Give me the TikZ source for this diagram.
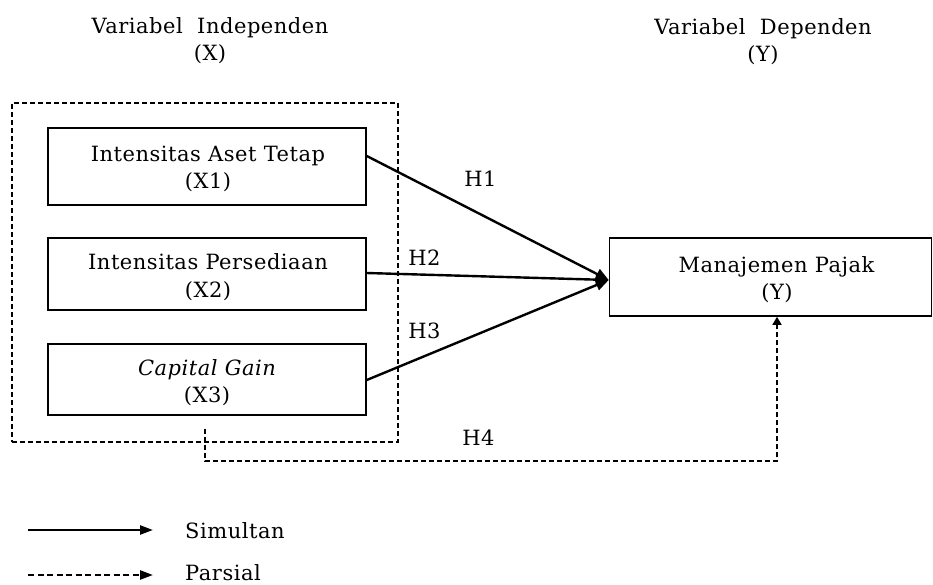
\documentclass[tikz,border=0pt]{standalone}
\usepackage{fontspec}
\setmainfont{DejaVu Serif}[LetterSpace=2.5]
\usetikzlibrary{arrows.meta}
\begin{document}
\begin{tikzpicture}[x=1pt,y=-1pt,
  every node/.style={font=\fontsize{21}{27.5}\selectfont, inner sep=0pt},
  varbox/.style={draw, line width=1.6pt, rectangle},
  grpbox/.style={draw, line width=1.2pt, dash pattern=on 5pt off 3pt, rectangle},
  txt/.style={anchor=base, align=center},
  solidarrow/.style={line width=2.4pt, -{Triangle[length=13pt,width=11pt]}},
  partarrow/.style={line width=1.5pt, dash pattern=on 5pt off 3pt, -{Triangle[length=8pt,width=9pt]}},
  legsolid/.style={line width=2.4pt, -{Triangle[length=13pt,width=9pt]}},
  legdash/.style={line width=2.4pt, dash pattern=on 6pt off 3.5pt, -{Triangle[length=13pt,width=9pt]}}
]
\useasboundingbox (0,0) rectangle (933,585);

% headers
\node[txt] (hx1) at (210,34) {Variabel\ \ Independen};
\node[txt] (hx2) at (210,61) {(X)};
\node[txt] (hy1) at (763,35) {Variabel\ \ Dependen};
\node[txt] (hy2) at (763,62) {(Y)};

% group box
\node[grpbox, minimum width=386pt, minimum height=339pt] (grp) at (205,272.5) {};

% boxes
\node[varbox, minimum width=318pt, minimum height=77pt] (x1) at (207,166.5) {};
\node[varbox, minimum width=318pt, minimum height=72pt] (x2) at (207,274) {};
\node[varbox, minimum width=318pt, minimum height=71pt] (x3) at (207,379.5) {};
\node[varbox, minimum width=322pt, minimum height=78pt] (y) at (770.5,277) {};

% box texts
\node[txt] (t1a) at (208,162) {Intensitas Aset Tetap};
\node[txt] (t1b) at (208,189) {(X1)};
\node[txt] (t2a) at (208,269) {Intensitas Persediaan};
\node[txt] (t2b) at (208,297) {(X2)};
\node[txt] (t3a) at (207,375) {\itshape Capital Gain};
\node[txt] (t3b) at (207,402) {(X3)};
\node[txt] (tya) at (776.5,272) {Manajemen Pajak};
\node[txt] (tyb) at (777,299) {(Y)};

% arrows
\draw[solidarrow] ([yshift=10.5pt]x1.east) -- ([yshift=-3pt]y.west);
\draw[solidarrow] ([yshift=1pt]x2.east) -- ([yshift=-3pt]y.west);
\draw[solidarrow] ([yshift=-0.5pt]x3.east) -- ([yshift=-3pt]y.west);

\coordinate (h4c) at (777,461);
\draw[partarrow] ([yshift=14pt]grp.south) |- (h4c) -- (h4c |- y.south);

% hypothesis labels
\node[txt] (h1) at (480.5,187) {H1};
\node[txt] (h2) at (424.5,265) {H2};
\node[txt] (h3) at (424.5,338) {H3};
\node[txt] (h4) at (478.5,445) {H4};

% legend
\coordinate (l1a) at (28,530);
\coordinate (l1b) at (153,530);
\coordinate (l2a) at (28,575);
\coordinate (l2b) at (153,575);
\draw[legsolid] (l1a) -- (l1b);
\draw[legdash] (l2a) -- (l2b);
\node[anchor=base west] (ls) at (185,538) {Simultan};
\node[anchor=base west] (lp) at (185,580.5) {Parsial};
\end{tikzpicture}
\end{document}
